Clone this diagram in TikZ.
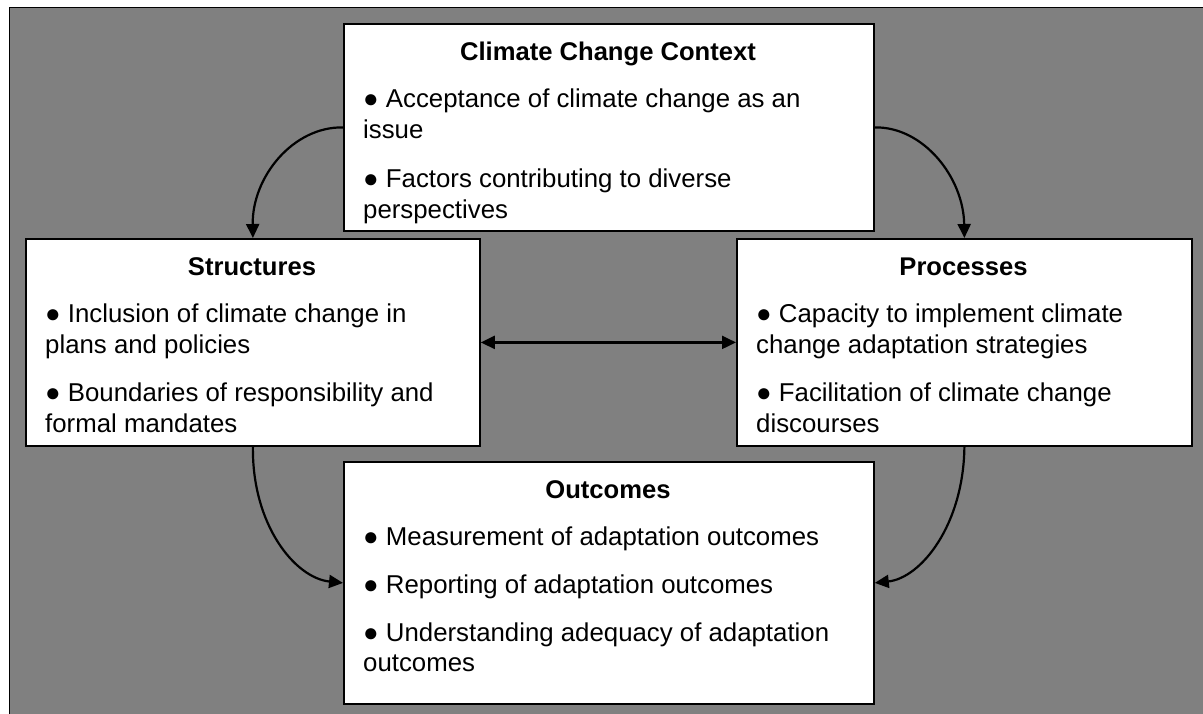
\documentclass[tikz,border=0pt]{standalone}
\usepackage{fontspec}
\setmainfont{Liberation Sans}
\usetikzlibrary{arrows.meta}
\definecolor{bgray}{HTML}{808080}
\begin{document}
\begin{tikzpicture}[x=1pt,y=-1pt,
  box/.style={draw=black,line width=1.8pt,fill=white,rectangle,inner sep=0pt,anchor=north west},
  ttl/.style={font=\fontsize{25.6}{31}\selectfont\bfseries,anchor=base,inner sep=0pt},
  txt/.style={font=\fontsize{25.8}{31}\selectfont,anchor=base west,inner sep=0pt},
  conn/.style={line width=2.2pt,-{Triangle[length=14pt,width=13pt]}},
  dconn/.style={line width=2.2pt,{Triangle[length=14pt,width=13pt]}-{Triangle[length=14pt,width=13pt]}}
]
\useasboundingbox (0,0) rectangle (1203,713);
\fill[bgray] (9.5,7.5) rectangle (1215,725);
\draw[line width=1.5pt] (9.5,730) -- (9.5,7.5) -- (1215,7.5);

% boxes
\node[box,minimum width=530pt,minimum height=207pt] (ctx) at (343,23) {};
\node[box,minimum width=454pt,minimum height=207pt] (str) at (25,238) {};
\node[box,minimum width=455pt,minimum height=207pt] (pro) at (736,238) {};
\node[box,minimum width=530pt,minimum height=242pt] (out) at (343,461) {};

% context text
\node[ttl] (ctxT) at (608,60) {Climate Change Context};
\node[txt] (ctx1) at (363,107) {● Acceptance of climate change as an};
\node[txt] (ctx2) at (363,138) {issue};
\node[txt] (ctx3) at (363,187) {● Factors contributing to diverse};
\node[txt] (ctx4) at (363,218) {perspectives};

% structures text
\node[ttl] (strT) at (252,275) {Structures};
\node[txt] (str1) at (45,322) {● Inclusion of climate change in};
\node[txt] (str2) at (45,353) {plans and policies};
\node[txt] (str3) at (45,401) {● Boundaries of responsibility and};
\node[txt] (str4) at (45,432) {formal mandates};

% processes text
\node[ttl] (proT) at (963.5,275) {Processes};
\node[txt] (pro1) at (756,322) {● Capacity to implement climate};
\node[txt] (pro2) at (756,353) {change adaptation strategies};
\node[txt] (pro3) at (756,401) {● Facilitation of climate change};
\node[txt] (pro4) at (756,432) {discourses};

% outcomes text
\node[ttl] (outT) at (608,498) {Outcomes};
\node[txt] (out1) at (363,545) {● Measurement of adaptation outcomes};
\node[txt] (out2) at (363,593) {● Reporting of adaptation outcomes};
\node[txt] (out3) at (363,641) {● Understanding adequacy of adaptation};
\node[txt] (out4) at (363,671) {outcomes};

% connectors
\draw[conn] (ctx.west) .. controls (293,126.5) and (252,177) .. (str.north);
\draw[conn] (ctx.east) .. controls (923,126.5) and (963.5,177) .. (pro.north);
\draw[dconn] (str.east) -- (pro.west);
\draw[conn] (str.south) .. controls (252,525) and (295,578) .. (out.west);
\draw[conn] (pro.south) .. controls (963.5,525) and (921,578) .. (out.east);
\end{tikzpicture}
\end{document}
